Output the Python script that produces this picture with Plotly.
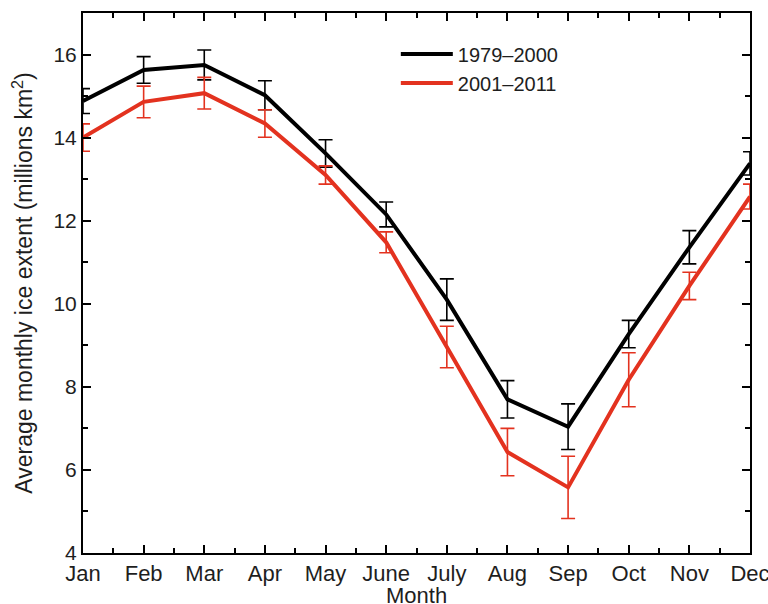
import plotly.graph_objects as go

months = ["Jan", "Feb", "Mar", "Apr", "May", "June", "July", "Aug", "Sep", "Oct", "Nov", "Dec"]
month_num = list(range(1, 13))

# 1979-2000 mean and spread
early = [14.88, 15.63, 15.75, 15.02, 13.62, 12.15, 10.1, 7.7, 7.04, 9.27, 11.36, 13.38]
early_err = [0.3, 0.32, 0.36, 0.35, 0.33, 0.3, 0.5, 0.45, 0.55, 0.33, 0.4, 0.28]

# 2001-2011 mean and spread
late = [14.0, 14.86, 15.07, 14.34, 13.1, 11.48, 8.96, 6.43, 5.58, 8.17, 10.43, 12.58]
late_err = [0.33, 0.38, 0.38, 0.33, 0.22, 0.25, 0.5, 0.57, 0.75, 0.65, 0.33, 0.3]

red = "#e3321f"

fig = go.Figure()
fig.add_trace(go.Scatter(x=month_num, y=early, mode="lines", name="1979\u20132000",
                         line=dict(color="black", width=4),
                         error_y=dict(type="data", array=early_err, color="black",
                                      thickness=1.6, width=7)))
fig.add_trace(go.Scatter(x=month_num, y=late, mode="lines", name="2001\u20132011",
                         line=dict(color=red, width=4),
                         error_y=dict(type="data", array=late_err, color=red,
                                      thickness=1.6, width=7)))

fig.update_layout(
    width=768, height=604,
    margin=dict(l=83, r=18, t=13, b=51),
    paper_bgcolor="white", plot_bgcolor="white",
    font=dict(family="Liberation Sans, Arial, sans-serif", size=22, color="#1e1e1e"),
    legend=dict(x=0.469, y=0.96, xanchor="left", yanchor="top",
                bgcolor="rgba(0,0,0,0)", font=dict(size=20),
                itemwidth=52, tracegroupgap=0),
)
fig.add_annotation(text="Month", xref="paper", yref="paper", x=0.5, y=-0.079,
                   xanchor="center", yanchor="middle", showarrow=False,
                   font=dict(size=22))
fig.update_xaxes(
    range=[1, 12], tickvals=month_num, ticktext=months,
    tickfont=dict(size=22), ticklabeloverflow="allow",
    showgrid=False, zeroline=False, automargin=False,
    showline=True, linecolor="black", linewidth=2, mirror="ticks",
    ticks="inside", ticklen=8, tickwidth=1.5, tickcolor="black",
    minor=dict(dtick=0.5, tick0=1, ticks="inside", ticklen=5, tickwidth=1.5, tickcolor="black"),
    ticklabelstandoff=0,
)
fig.update_yaxes(
    range=[4, 17], tickvals=[4, 6, 8, 10, 12, 14, 16],
    tickfont=dict(size=21),
    showgrid=False, zeroline=False, automargin=False,
    showline=True, linecolor="black", linewidth=2, mirror="ticks",
    ticks="inside", ticklen=8, tickwidth=1.5, tickcolor="black",
    minor=dict(dtick=1, tick0=4, ticks="inside", ticklen=5, tickwidth=1.5, tickcolor="black"),
    title=dict(text="Average monthly ice extent (millions km<sup>2</sup>)", standoff=14,
               font=dict(size=23)),
)

# drop the default page margin so the figure fills the window exactly
fig.write_html("out.html", config={"displayModeBar": False},
               post_script="document.body.style.margin='0';")
